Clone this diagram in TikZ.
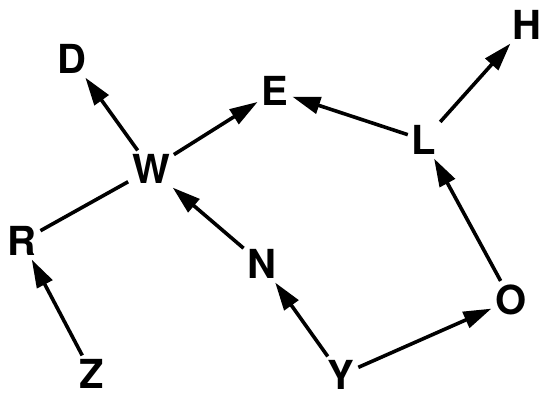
\documentclass[tikz,border=0pt]{standalone}
\usepackage{fontspec}
\setmainfont{TeX Gyre Heros}
\usetikzlibrary{arrows.meta}
\tikzset{every picture/.append style={font=\fontsize{40}{42}\selectfont\bfseries}}

\begin{document}
\begin{tikzpicture}[x=1pt,y=1pt,
    letter/.style={inner sep=1pt,outer sep=3pt},
    arr/.style={line width=3.6pt,-{Triangle[length=28pt,width=17pt]}},
    link/.style={line width=3.6pt}]
    \useasboundingbox (0,0) rectangle (542,-398);
    % letters
    \node[letter] (d) at (72,-59) {D};
    \node[letter] (w) at (151,-169) {W};
    \node[letter] (e) at (275,-91) {E};
    \node[letter] (h) at (527,-25) {H};
    \node[letter] (l) at (424,-140) {L};
    \node[letter] (r) at (22,-241) {R};
    \node[letter] (n) at (262,-264) {N};
    \node[letter] (o) at (511,-300) {O};
    \node[letter] (z) at (92,-374) {Z};
    \node[letter] (y) at (341,-375) {Y};
    % arrows
    \draw[arr] (w) -- (d);
    \draw[arr] (w) -- (e);
    \draw[arr] (l) -- (e);
    \draw[arr] (l) -- (h);
    \draw[link] (r) -- (w);
    \draw[arr] (n) -- (w);
    \draw[arr] (o) -- (l);
    \draw[arr] (z) -- (r);
    \draw[arr] (y) -- (n);
    \draw[arr] (y) -- (o);
  \end{tikzpicture}
\end{document}
